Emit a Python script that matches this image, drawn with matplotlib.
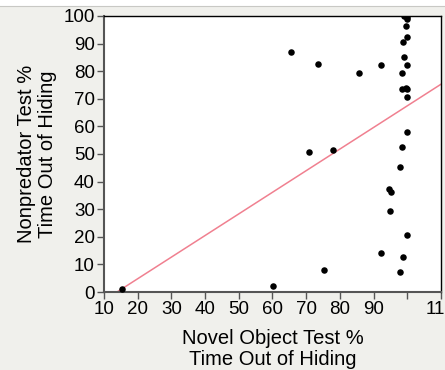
import numpy as np
import matplotlib.pyplot as plt
from matplotlib.patches import Rectangle

# novel object test (x) vs nonpredator test (y), % time out of hiding
novel = [15.2, 60.1, 75.2, 92.3, 98.6, 97.9, 100.0, 94.7, 95.3, 95.0, 97.9,
         98.3, 100.0, 70.8, 78.1, 100.0, 98.3, 99.6, 100.0, 98.3, 92.3,
         85.8, 73.6, 65.6, 100.0, 99.1, 98.6, 100.0, 99.6, 98.9, 99.7,
         100.0, 100.0]
nonpred = [1.0, 2.2, 8.1, 14.2, 12.7, 7.1, 20.5, 37.3, 36.2, 29.5, 45.3,
           52.6, 57.9, 50.7, 51.6, 70.7, 73.6, 73.9, 73.6, 79.2, 82.2,
           79.2, 82.6, 87.0, 82.2, 85.0, 90.6, 92.3, 96.4, 100.0, 100.0,
           99.5, 98.8]

# fitted line
slope = 0.783
intercept = -10.85

xticks = [10, 20, 30, 40, 50, 60, 70, 80, 90, 100, 110]
xticklabels = ["10", "20", "30", "40", "50", "60", "70", "80", "90", "", "110"]
yticks = [0, 10, 20, 30, 40, 50, 60, 70, 80, 90, 100]

plt.rcParams['font.family'] = ['Liberation Sans', 'DejaVu Sans']

bg = "#f0f0ec"
fig = plt.figure(figsize=(4.45, 3.70), dpi=100, facecolor=bg)
# white strip at the top of the screenshot
fig.patches.append(Rectangle((0, 0.985), 1, 0.015, transform=fig.transFigure,
                             facecolor="white", edgecolor="none"))
fig.add_artist(plt.Line2D([0, 1], [0.985, 0.985], color="#c8c8c4", lw=0.8,
                          transform=fig.transFigure))

ax = fig.add_axes([0.2337, 0.2108, 0.7573, 0.746])
ax.set_facecolor("white")

xs = np.array([10, 110])
ax.plot(xs, intercept + slope * xs, color="#f08090", lw=1.1, zorder=2)
ax.scatter(novel, nonpred, s=22, color="black", zorder=3, linewidths=0)

ax.set_xlim(10, 110)
ax.set_ylim(0, 100)
ax.set_xticks(xticks)
ax.set_xticklabels(xticklabels)
ax.set_yticks(yticks)
ax.tick_params(axis="both", labelsize=13.5, direction="out", length=5,
               width=1, color="#555555", pad=1.5)

for side in ["top", "right"]:
    ax.spines[side].set_color("black")
    ax.spines[side].set_linewidth(1)
for side in ["left", "bottom"]:
    ax.spines[side].set_color("#555555")
    ax.spines[side].set_linewidth(1.5)

ax.set_xlabel("Novel Object Test %\nTime Out of Hiding", fontsize=14.5,
              linespacing=1.1, labelpad=8)
ax.set_ylabel("Nonpredator Test %\nTime Out of Hiding", fontsize=14.5,
              linespacing=1.1, labelpad=5)

fig.savefig("out.png", dpi=100, facecolor=bg)
